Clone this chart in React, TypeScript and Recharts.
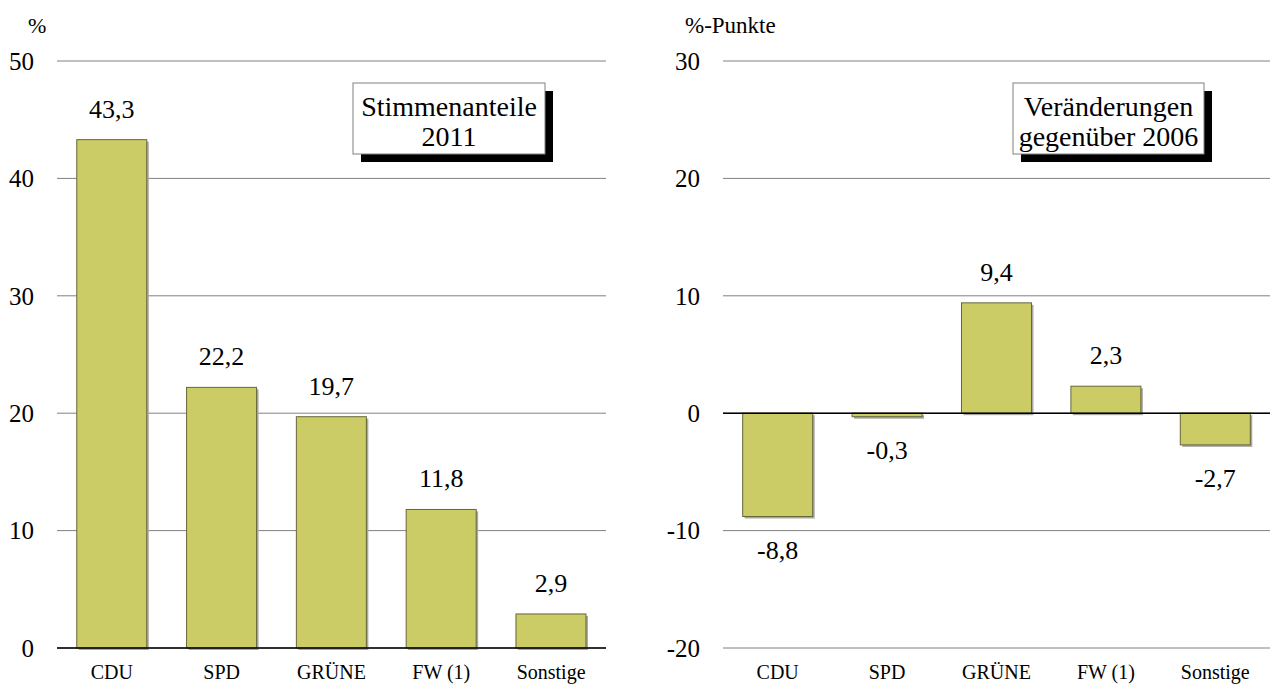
import React from "react";
import { BarChart, Bar, XAxis, YAxis, CartesianGrid, ReferenceLine, LabelList } from "recharts";

const parties = ["CDU", "SPD", "GRÜNE", "FW (1)", "Sonstige"];
const shares2011 = [43.3, 22.2, 19.7, 11.8, 2.9];
const changesVs2006 = [-8.8, -0.3, 9.4, 2.3, -2.7];
const leftTicks = [0, 10, 20, 30, 40, 50];
const rightTicks = [-20, -10, 0, 10, 20, 30];

const FONT = "Liberation Serif";
const BAR_FILL = "#cccc66";

const leftData = parties.map((p, i) => ({ party: p, value: shares2011[i] }));
const rightData = parties.map((p, i) => ({ party: p, value: changesVs2006[i] }));

const fmt = (v: number) => String(v).replace(".", ",");

function ShadowBar(props: any) {
  const { x, y, width, height } = props;
  const top = height < 0 ? y + height : y;
  const h = Math.abs(height);
  return (
    <g>
      <rect x={x + 2} y={top + 2} width={width} height={h} fill="#a8a8a8" />
      <rect x={x} y={top} width={width} height={h} fill={BAR_FILL} stroke="#66663a" strokeWidth={1} />
    </g>
  );
}

function ValueLabel(props: any) {
  const { x, y, width, height, value } = props;
  if (x == null || value == null) return null;
  const cx = x + width / 2;
  const top = height < 0 ? y + height : y;
  const bottom = top + Math.abs(height);
  const ty = value < 0 ? bottom + 42 : top - 22;
  return (
    <text x={cx} y={ty} textAnchor="middle" fontSize={26} fontFamily={FONT} fill="#000">
      {fmt(value)}
    </text>
  );
}

function TitleBox({ x, w, lines }: { x: number; w: number; lines: string[] }) {
  const cx = x + w / 2;
  return (
    <g>
      <rect x={x + 8} y={91} width={w} height={71} fill="#000" />
      <rect x={x} y={83} width={w} height={71} fill="#fff" stroke="#808080" strokeWidth={1} />
      <text x={cx} y={116} textAnchor="middle" fontSize={28} fontFamily={FONT} fill="#000">{lines[0]}</text>
      <text x={cx} y={146} textAnchor="middle" fontSize={28} fontFamily={FONT} fill="#000">{lines[1]}</text>
    </g>
  );
}

const tickStyle = { fontSize: 25, fill: "#000", fontFamily: FONT };
const catStyle = { fontSize: 20, fill: "#000", fontFamily: FONT };

export default function App() {
  return (
    <div style={{ position: "absolute", left: 0, top: 0, width: 1270, height: 686, background: "#fff", overflow: "hidden", fontFamily: FONT }}>
      <div style={{ position: "absolute", left: 0, top: 0 }}>
        <BarChart width={635} height={686} data={leftData} margin={{ top: 61, right: 29, bottom: 6, left: 0 }} barCategoryGap="18%">
          <CartesianGrid horizontal vertical={false} stroke="#808080" />
          <XAxis dataKey="party" height={32} tickLine={false} axisLine={false} tick={catStyle} interval={0} tickMargin={11} />
          <YAxis width={57} domain={[0, 50]} ticks={leftTicks} tickLine={false} axisLine={false} tick={tickStyle} tickMargin={17} />
          <ReferenceLine y={0} stroke="#000" strokeWidth={1.5} />
          <Bar dataKey="value" isAnimationActive={false} shape={<ShadowBar />}>
            <LabelList dataKey="value" content={<ValueLabel />} />
          </Bar>
        </BarChart>
      </div>

      <div style={{ position: "absolute", left: 635, top: 0 }}>
        <BarChart width={635} height={686} data={rightData} margin={{ top: 61, right: 0, bottom: 6, left: 0 }} barCategoryGap="18%">
          <CartesianGrid horizontal vertical={false} stroke="#808080" />
          <XAxis dataKey="party" height={32} tickLine={false} axisLine={false} tick={catStyle} interval={0} tickMargin={11} />
          <YAxis width={88} domain={[-20, 30]} ticks={rightTicks} tickLine={false} axisLine={false} tick={tickStyle} tickMargin={17} />
          <ReferenceLine y={0} stroke="#000" strokeWidth={1.5} />
          <Bar dataKey="value" isAnimationActive={false} shape={<ShadowBar />}>
            <LabelList dataKey="value" content={<ValueLabel />} />
          </Bar>
        </BarChart>
      </div>

      <svg width={1270} height={686} style={{ position: "absolute", left: 0, top: 0, pointerEvents: "none" }}>
        <text x={28} y={33} fontSize={22} fontFamily={FONT} fill="#000">%</text>
        <text x={685} y={33} fontSize={23} fontFamily={FONT} fill="#000">%-Punkte</text>
        <TitleBox x={353} w={192} lines={["Stimmenanteile", "2011"]} />
        <TitleBox x={1013} w={191} lines={["Veränderungen", "gegenüber 2006"]} />
      </svg>
    </div>
  );
}
